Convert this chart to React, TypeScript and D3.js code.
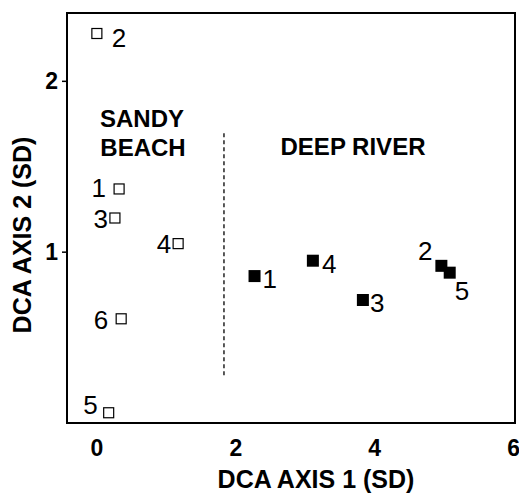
import React, { useEffect, useRef } from "react";
import * as d3 from "d3";

// Sandy beach sites (open squares)
const sandyLabels = ["1", "2", "3", "4", "5", "6"];
const sandyX = [0.32, 0.0, 0.26, 1.17, 0.17, 0.35];
const sandyY = [1.37, 2.28, 1.2, 1.05, 0.06, 0.61];

// Deep river sites (filled squares)
const riverLabels = ["1", "2", "3", "4", "5"];
const riverX = [2.27, 4.96, 3.83, 3.11, 5.08];
const riverY = [0.86, 0.92, 0.72, 0.95, 0.88];

const xTicks = [0, 2, 4, 6];
const yTicks = [1, 2];

// habitat divider
const dividerX = 1.83;
const dividerY = [0.28, 1.71];

// label placement [dx, dy, anchor]
const sandyPlace: [number, number, string][] = [
  [-13, 8, "end"],
  [15, 13, "start"],
  [-7, 10, "end"],
  [-7, 9, "end"],
  [-11, 1, "end"],
  [-13, 10, "end"],
];
const riverPlace: [number, number, string][] = [
  [8, 12, "start"],
  [-9, -6, "end"],
  [7, 12, "start"],
  [9, 12, "start"],
  [5, 27, "start"],
];

const FONT = "'Liberation Sans', Arial, Helvetica, sans-serif";

const App = () => {
  const ref = useRef<SVGSVGElement>(null);

  useEffect(() => {
    const left = 67;
    const right = 515;
    const top = 13;
    const bottom = 423;

    const svg = d3.select(ref.current);
    svg.selectAll("*").remove();

    const x = d3.scaleLinear().domain([-0.43, 6.02]).range([left, right]);
    const y = d3.scaleLinear().domain([0, 2.4]).range([bottom, top]);

    // frame
    svg
      .append("rect")
      .attr("x", left)
      .attr("y", top)
      .attr("width", right - left)
      .attr("height", bottom - top)
      .attr("fill", "none")
      .attr("stroke", "#000")
      .attr("stroke-width", 2);

    // y ticks
    svg
      .selectAll(".ytick")
      .data(yTicks)
      .join("line")
      .attr("x1", left - 5)
      .attr("x2", left)
      .attr("y1", (d) => y(d))
      .attr("y2", (d) => y(d))
      .attr("stroke", "#000")
      .attr("stroke-width", 1.5);

    svg
      .selectAll(".ylab")
      .data(yTicks)
      .join("text")
      .attr("x", left - 9)
      .attr("y", (d) => y(d) + 8)
      .attr("text-anchor", "end")
      .attr("font-family", FONT)
      .attr("font-weight", "bold")
      .attr("font-size", 23)
      .text((d) => d);

    svg
      .selectAll(".xlab")
      .data(xTicks)
      .join("text")
      .attr("x", (d) => x(d))
      .attr("y", 456)
      .attr("text-anchor", "middle")
      .attr("font-family", FONT)
      .attr("font-weight", "bold")
      .attr("font-size", 23)
      .text((d) => d);

    // axis titles
    svg
      .append("text")
      .attr("x", 316)
      .attr("y", 488)
      .attr("text-anchor", "middle")
      .attr("font-family", FONT)
      .attr("font-weight", "bold")
      .attr("font-size", 25)
      .text("DCA AXIS 1 (SD)");

    svg
      .append("text")
      .attr("transform", `translate(31,235) rotate(-90)`)
      .attr("text-anchor", "middle")
      .attr("font-family", FONT)
      .attr("font-weight", "bold")
      .attr("font-size", 25)
      .text("DCA AXIS 2 (SD)");

    // divider
    svg
      .append("line")
      .attr("x1", x(dividerX))
      .attr("x2", x(dividerX))
      .attr("y1", y(dividerY[0]))
      .attr("y2", y(dividerY[1]))
      .attr("stroke", "#000")
      .attr("stroke-width", 1.3)
      .attr("stroke-dasharray", "4,3");

    // group names
    const grp = svg
      .append("g")
      .attr("font-family", FONT)
      .attr("font-weight", "bold")
      .attr("font-size", 24)
      .attr("text-anchor", "middle");
    grp.append("text").attr("x", 142).attr("y", 127).text("SANDY");
    grp.append("text").attr("x", 143).attr("y", 156).text("BEACH");
    grp.append("text").attr("x", 353).attr("y", 155).text("DEEP RIVER");

    const sandy = sandyLabels.map((l, i) => ({ l, x: sandyX[i], y: sandyY[i], p: sandyPlace[i] }));
    const river = riverLabels.map((l, i) => ({ l, x: riverX[i], y: riverY[i], p: riverPlace[i] }));

    svg
      .selectAll(".sandy")
      .data(sandy)
      .join("rect")
      .attr("x", (d) => x(d.x) - 5)
      .attr("y", (d) => y(d.y) - 5)
      .attr("width", 10)
      .attr("height", 10)
      .attr("fill", "#fff")
      .attr("stroke", "#000")
      .attr("stroke-width", 1.2);

    svg
      .selectAll(".river")
      .data(river)
      .join("rect")
      .attr("x", (d) => x(d.x) - 6)
      .attr("y", (d) => y(d.y) - 6)
      .attr("width", 12)
      .attr("height", 12)
      .attr("fill", "#000");

    svg
      .selectAll(".plab")
      .data([...sandy, ...river])
      .join("text")
      .attr("x", (d) => x(d.x) + d.p[0])
      .attr("y", (d) => y(d.y) + d.p[1])
      .attr("text-anchor", (d) => d.p[2])
      .attr("font-family", FONT)
      .attr("font-size", 26)
      .text((d) => d.l);
  }, []);

  return (
    <svg
      ref={ref}
      width={519}
      height={494}
      style={{ position: "absolute", left: 0, top: 0, background: "#fff" }}
    />
  );
};

export default App;
